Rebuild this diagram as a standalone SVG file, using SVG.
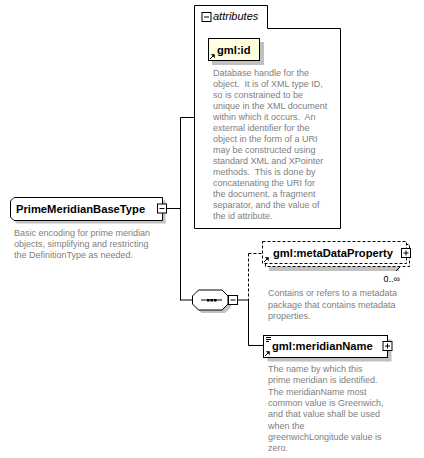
<svg xmlns="http://www.w3.org/2000/svg" width="424" height="458" viewBox="0 0 424 458">
<style>
.ln{stroke:#000;stroke-width:1;fill:none}
.dl{stroke:#000;stroke-width:1;fill:none;stroke-dasharray:3,2}
.box{fill:#fff;stroke:#000;stroke-width:1}
.dbox{fill:#fff;stroke:#000;stroke-width:1;stroke-dasharray:3,2}
.sh{fill:#c0c0c0}
.nm{font-family:"Liberation Sans",Arial,sans-serif;font-weight:bold;font-size:11.2px;fill:#000}
.ds{font-family:"Liberation Sans",Arial,sans-serif;font-size:9px;fill:#808080;white-space:pre}
.it{font-family:"Liberation Sans",Arial,sans-serif;font-style:italic;font-size:11px;fill:#000}
.oc{font-family:"Liberation Sans",Arial,sans-serif;font-size:9px;fill:#000}
</style>
<defs>
<g id="minus"><rect x="0.5" y="0.5" width="9" height="9" class="box"/><path d="M2.5,5H7.5" class="ln"/></g>
<g id="plus"><rect x="0.5" y="0.5" width="9" height="9" class="box"/><path d="M2.5,5H7.5M5,2.5V7.5" class="ln"/></g>
<g id="ref"><path d="M0,5L4,1" class="ln"/><path d="M1.5,0.5H4.5V3.5Z" fill="#000" stroke="#000" stroke-width="0.6"/></g>
</defs>

<g id="connectors">
<path d="M167,208.5H180.5M180.5,117.5V300.5M180.5,117.5H194.5M180.5,300H192.5" class="ln"/>
<path d="M238,300H248.5" class="ln"/>
<path d="M248.5,253.5V300M248.5,253.5H262.5" class="dl"/>
<path d="M248.5,300V345.5H263.5" class="ln"/>
</g>

<g id="PrimeMeridianBaseType">
<polygon points="17,200.5 165.5,200.5 165.5,223.5 17,223.5 13.5,220 13.5,204" class="sh"/>
<polygon points="14,197.5 162.5,197.5 162.5,220.5 14,220.5 10.5,217 10.5,201" class="box"/>
<text x="16" y="212.5" class="nm">PrimeMeridianBaseType</text>
<use href="#minus" x="157" y="203.5"/>
<text class="ds" xml:space="preserve"><tspan x="14" y="236">Basic encoding for prime meridian</tspan><tspan x="14" y="247">objects, simplifying and restricting</tspan><tspan x="14" y="258">the DefinitionType as needed.</tspan></text>
</g>

<g id="attributes">
<path d="M194.5,5.5H267.5V28.5H340.5V228.5H194.5Z" class="box"/>
<use href="#minus" x="201.5" y="12"/>
<text x="213" y="20" class="it">attributes</text>
</g>

<g id="gml-id">
<rect x="212" y="42" width="52" height="23" class="sh"/>
<rect x="208.5" y="38.5" width="51" height="22" fill="#ffffe0" stroke="#000"/>
<text x="217" y="54" class="nm">gml:id</text>
<use href="#ref" x="210" y="54"/>
<text class="ds" xml:space="preserve"><tspan x="213" y="76">Database handle for the</tspan><tspan x="213" y="87">object.  It is of XML type ID,</tspan><tspan x="213" y="98">so is constrained to be</tspan><tspan x="213" y="109">unique in the XML document</tspan><tspan x="213" y="120">within which it occurs.  An</tspan><tspan x="213" y="131">external identifier for the</tspan><tspan x="213" y="142">object in the form of a URI</tspan><tspan x="213" y="153">may be constructed using</tspan><tspan x="213" y="164">standard XML and XPointer</tspan><tspan x="213" y="175">methods.  This is done by</tspan><tspan x="213" y="186">concatenating the URI for</tspan><tspan x="213" y="197">the document, a fragment</tspan><tspan x="213" y="208">separator, and the value of</tspan><tspan x="213" y="219">the id attribute.</tspan></text>
</g>

<g id="sequence">
<polygon points="201.5,293 225,293 231,299 231,307 225,313 201.5,313 195.5,307 195.5,299" class="sh"/>
<polygon points="198.5,290 222,290 228,296 228,304 222,310 198.5,310 192.5,304 192.5,296" class="box"/>
<path d="M201,300H222" class="ln"/>
<rect x="207" y="299" width="2.5" height="2.5" fill="#000"/>
<rect x="210.5" y="299" width="2.5" height="2.5" fill="#000"/>
<rect x="214" y="299" width="2.5" height="2.5" fill="#000"/>
<use href="#minus" x="228" y="295"/>
</g>

<g id="gml-metaDataProperty">
<rect x="269" y="266" width="130" height="5" class="sh"/>
<rect x="265.5" y="244.5" width="144" height="22" class="dbox"/>
<rect x="262.5" y="241.5" width="144" height="22" class="dbox"/>
<text x="273" y="257" class="nm">gml:metaDataProperty</text>
<use href="#plus" x="401" y="248"/>
<use href="#ref" x="264" y="257"/>
<path d="M396,271L400,267" class="ln"/>
<text x="400" y="282" text-anchor="end" class="oc">0..∞</text>
<text class="ds" xml:space="preserve"><tspan x="268" y="296">Contains or refers to a metadata</tspan><tspan x="268" y="307.5">package that contains metadata</tspan><tspan x="268" y="319">properties.</tspan></text>
</g>

<g id="gml-meridianName">
<rect x="267.5" y="339.5" width="124" height="22" class="sh"/>
<rect x="263.5" y="335.5" width="124" height="22" class="box"/>
<path d="M266,337.5H271M266,339.5H271M266,341.5H269" class="ln"/>
<text x="272" y="350" class="nm">gml:meridianName</text>
<use href="#plus" x="382.5" y="341"/>
<use href="#ref" x="265" y="351"/>
<text class="ds" xml:space="preserve"><tspan x="268" y="372">The name by which this</tspan><tspan x="268" y="383.3">prime meridian is identified.</tspan><tspan x="268" y="394.6">The meridianName most</tspan><tspan x="268" y="405.9">common value is Greenwich,</tspan><tspan x="268" y="417.2">and that value shall be used</tspan><tspan x="268" y="428.5">when the</tspan><tspan x="268" y="439.8">greenwichLongitude value is</tspan><tspan x="268" y="451.1">zero.</tspan></text>
</g>
</svg>
